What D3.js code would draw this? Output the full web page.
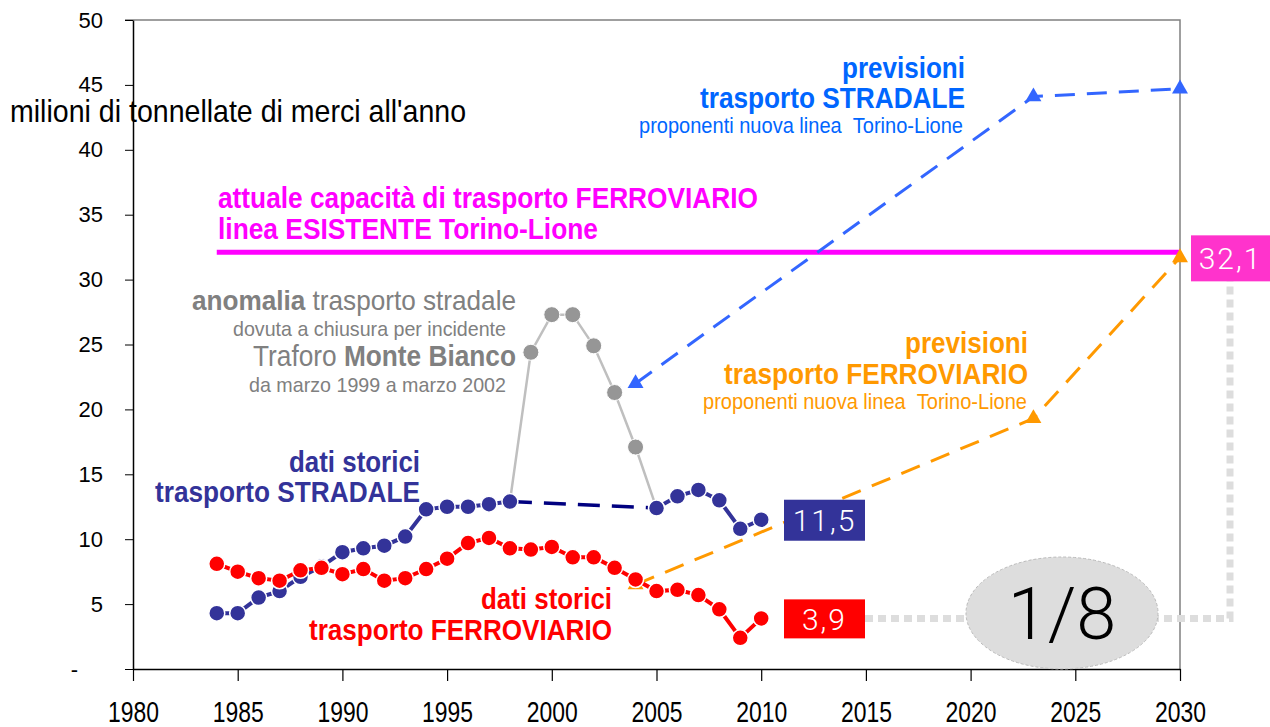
<!DOCTYPE html>
<html>
<head>
<meta charset="utf-8">
<script src="https://cdn.jsdelivr.net/npm/d3@7/dist/d3.min.js"></script>
<style>
  body { margin: 0; background: #fff; }
  svg { display: block; }
  .narrow { font-family: "Liberation Sans", Arial, sans-serif; }
</style>
</head>
<body>
<div id="chart"></div>
<script>
// historic data
const roadYears = [1984, 1985, 1986, 1987, 1988, 1989, 1990, 1991, 1992, 1993, 1994, 1995, 1996, 1997, 1998];
const roadValues = [4.3, 4.3, 5.5, 6.0, 7.1, 7.9, 9.0, 9.3, 9.5, 10.2, 12.3, 12.5, 12.5, 12.7, 12.9];
const roadYears2 = [2005, 2006, 2007, 2008, 2009, 2010];
const roadValues2 = [12.4, 13.3, 13.8, 13.0, 10.8, 11.5];
const gapYears = [1998, 2005];
const gapValues = [12.9, 12.4];
const anomalyYears = [1998, 1999, 2000, 2001, 2002, 2003, 2004, 2005];
const anomalyValues = [12.9, 24.4, 27.3, 27.3, 24.9, 21.3, 17.1, 12.4];
const railYears = [1984, 1985, 1986, 1987, 1988, 1989, 1990, 1991, 1992, 1993, 1994, 1995, 1996, 1997,
                   1998, 1999, 2000, 2001, 2002, 2003, 2004, 2005, 2006, 2007, 2008, 2009, 2010];
const railValues = [8.1, 7.5, 7.0, 6.8, 7.6, 7.8, 7.3, 7.7, 6.8, 7.0, 7.7, 8.5, 9.7, 10.1,
                    9.3, 9.2, 9.4, 8.6, 8.6, 7.8, 6.9, 6.0, 6.1, 5.7, 4.6, 2.4, 3.9];
// forecasts
const roadForecastYears = [2004, 2023, 2030];
const roadForecastValues = [22.0, 44.1, 44.7];
const railForecastYears = [2004, 2023, 2030];
const railForecastValues = [6.5, 19.3, 31.7];
const capacityYears = [1984, 2030];
const capacityValue = 32.1;
const xTicks = [1980, 1985, 1990, 1995, 2000, 2005, 2010, 2015, 2020, 2025, 2030];
const yTicks = [0, 5, 10, 15, 20, 25, 30, 35, 40, 45, 50];

const width = 1270, height = 727;
const margin = { top: 20, right: 90, bottom: 58, left: 133 };

const svg = d3.select("#chart").append("svg")
    .attr("width", width)
    .attr("height", height);

const x = d3.scaleLinear().domain([1980, 2030]).range([margin.left, width - margin.right]);
const y = d3.scaleLinear().domain([0, 50]).range([height - margin.bottom, margin.top]);

const zip = (xs, vs) => xs.map((d, i) => ({ year: d, value: vs[i] }));
const line = d3.line().x(d => x(d.year)).y(d => y(d.value));

// frame (top and right, grey)
svg.append("path")
    .attr("d", `M${margin.left - 8},${y(50)}H${x(2030)}V${y(0)}`)
    .attr("fill", "none")
    .attr("stroke", "#808080")
    .attr("stroke-width", 1.5);

// axes
svg.append("g")
    .attr("transform", `translate(0,${y(0)})`)
    .call(d3.axisBottom(x).tickValues(xTicks).tickFormat(d3.format("d")).tickSize(12).tickSizeOuter(0))
    .call(g => g.select(".domain").attr("stroke-width", 1.5))
    .call(g => g.selectAll("line").attr("stroke-width", 1.2))
    .call(g => g.selectAll("text")
        .attr("class", "narrow")
        .attr("font-size", 29)
        .attr("fill", "#000")
        .attr("textLength", 51)
        .attr("lengthAdjust", "spacingAndGlyphs")
        .attr("y", 53)
        .attr("dy", 0));

svg.append("g")
    .attr("transform", `translate(${margin.left},0)`)
    .call(d3.axisLeft(y).tickValues(yTicks).tickFormat(d => d === 0 ? "-" : d).tickSize(8).tickSizeOuter(0))
    .call(g => g.select(".domain").attr("stroke-width", 1.5))
    .call(g => g.selectAll("text")
        .attr("font-family", "Liberation Sans, Arial, sans-serif")
        .attr("font-size", 22)
        .attr("fill", "#000")
        .attr("x", d => d === 0 ? -55 : -30));

// annotations, squeezed to the narrow width of the original
function note(ax, ay, color, anchor, parts, size, len) {
    const t = svg.append("text")
        .attr("class", "narrow")
        .attr("x", ax).attr("y", ay)
        .attr("text-anchor", anchor)
        .attr("font-size", size)
        .attr("fill", color)
        .attr("textLength", len)
        .attr("lengthAdjust", "spacingAndGlyphs");
    parts.forEach(p => t.append("tspan").attr("font-weight", p[1] ? "bold" : "normal").text(p[0]));
}

// unit label
note(10, 122, "#000", "start", [["milioni di tonnellate di merci all'anno", false]], 32, 456);

// capacity line
svg.append("path")
    .datum(capacityYears.map(d => ({ year: d, value: capacityValue })))
    .attr("d", line)
    .attr("stroke", "#ff00ff")
    .attr("stroke-width", 5)
    .attr("fill", "none");

// grey dotted connector 3,9 -> 32,1
svg.append("path")
    .attr("d", `M865,${y(3.9)}H1230V${y(capacityValue) + 18}`)
    .attr("fill", "none")
    .attr("stroke", "#dddddd")
    .attr("stroke-width", 7)
    .attr("stroke-dasharray", "8 5");

// forecasts
function forecast(years, values, color) {
    const data = zip(years, values);
    svg.append("path")
        .datum(data)
        .attr("d", line)
        .attr("fill", "none")
        .attr("stroke", color)
        .attr("stroke-width", 3)
        .attr("stroke-dasharray", "20 12");
    svg.selectAll(null)
        .data(data)
      .enter().append("path")
        .attr("d", d3.symbol(d3.symbolTriangle, 110))
        .attr("transform", d => `translate(${x(d.year)},${y(d.value)})`)
        .attr("fill", color);
}
forecast(roadForecastYears, roadForecastValues, "#3366ff");
forecast(railForecastYears, railForecastValues, "#ff9900");

// anomaly
svg.append("path")
    .datum(zip(anomalyYears, anomalyValues))
    .attr("d", line)
    .attr("fill", "none")
    .attr("stroke", "#bfbfbf")
    .attr("stroke-width", 2.5);
svg.selectAll(null)
    .data(zip(anomalyYears, anomalyValues).slice(1, -1))
  .enter().append("circle")
    .attr("cx", d => x(d.year))
    .attr("cy", d => y(d.value))
    .attr("r", 8)
    .attr("fill", "#969696")
    .attr("stroke", "#fff")
    .attr("stroke-width", 1);

// dashed road gap
svg.append("path")
    .datum(zip(gapYears, gapValues))
    .attr("d", line)
    .attr("fill", "none")
    .attr("stroke", "#000080")
    .attr("stroke-width", 3.5)
    .attr("stroke-dasharray", "22 12");

function historic(years, values, color) {
    const data = zip(years, values);
    svg.append("path")
        .datum(data)
        .attr("d", line)
        .attr("fill", "none")
        .attr("stroke", color)
        .attr("stroke-width", 4);
    svg.selectAll(null)
        .data(data)
      .enter().append("circle")
        .attr("cx", d => x(d.year))
        .attr("cy", d => y(d.value))
        .attr("r", 8)
        .attr("fill", color)
        .attr("stroke", "#fff")
        .attr("stroke-width", 1.5);
}
historic(roadYears, roadValues, "#333399");
historic(railYears, railValues, "#ff0000");
historic(roadYears2, roadValues2, "#333399");

// value boxes
function valueBox(bx, by, w, h, fill, label) {
    svg.append("rect")
        .attr("x", bx).attr("y", by)
        .attr("width", w).attr("height", h)
        .attr("fill", fill);
    svg.append("text")
        .attr("x", bx + w / 2).attr("y", by + h / 2)
        .attr("dy", "0.36em")
        .attr("text-anchor", "middle")
        .attr("font-family", "Roboto, sans-serif")
        .attr("font-weight", 300)
        .attr("font-size", 30)
        .attr("letter-spacing", 2)
        .attr("fill", "#fff")
        .text(label);
}
valueBox(784, y(11.5) - 20, 81, 41, "#333399", "11,5");
valueBox(784, y(3.9) - 19, 81, 39, "#ff0000", "3,9");
valueBox(1191, y(capacityValue) - 17, 79, 46, "#ff33cc", "32,1");

// ellipse 1/8
svg.append("ellipse")
    .attr("cx", 1062).attr("cy", 613)
    .attr("rx", 96).attr("ry", 56)
    .attr("fill", "#dddddd")
    .attr("stroke", "#bbbbbb")
    .attr("stroke-dasharray", "3 2");
svg.append("text")
    .attr("x", 1062).attr("y", 613)
    .attr("dy", "0.36em")
    .attr("text-anchor", "middle")
    .attr("font-family", "Roboto, sans-serif")
    .attr("font-weight", 300)
    .attr("font-size", 72)
    .text("1/8");

note(218, 208, "#ff00ff", "start", [["attuale capacità di trasporto FERROVIARIO", true]], 30, 540);
note(218, 239, "#ff00ff", "start", [["linea ESISTENTE Torino-Lione", true]], 30, 380);

note(516, 310, "#808080", "end", [["anomalia", true], [" trasporto stradale", false]], 28, 324);
note(506, 336, "#808080", "end", [["dovuta a chiusura per incidente", false]], 21, 273);
note(516, 366, "#808080", "end", [["Traforo ", false], ["Monte Bianco", true]], 30, 263);
note(506, 392, "#808080", "end", [["da marzo 1999 a marzo 2002", false]], 21, 257);

note(420, 472, "#333399", "end", [["dati storici", true]], 30, 131);
note(420, 502, "#333399", "end", [["trasporto STRADALE", true]], 30, 265);

note(612, 609, "#ff0000", "end", [["dati storici", true]], 30, 131);
note(612, 640, "#ff0000", "end", [["trasporto FERROVIARIO", true]], 30, 303);

note(965, 78, "#0066ff", "end", [["previsioni", true]], 30, 123);
note(965, 108, "#0066ff", "end", [["trasporto STRADALE", true]], 30, 265);
note(963, 133, "#0066ff", "end", [["proponenti nuova linea \u00a0Torino-Lione", false]], 22, 324);

note(1028, 353, "#ff9900", "end", [["previsioni", true]], 30, 123);
note(1028, 384, "#ff9900", "end", [["trasporto FERROVIARIO", true]], 30, 304);
note(1027, 409, "#ff9900", "end", [["proponenti nuova linea \u00a0Torino-Lione", false]], 22, 324);
</script>
</body>
</html>
